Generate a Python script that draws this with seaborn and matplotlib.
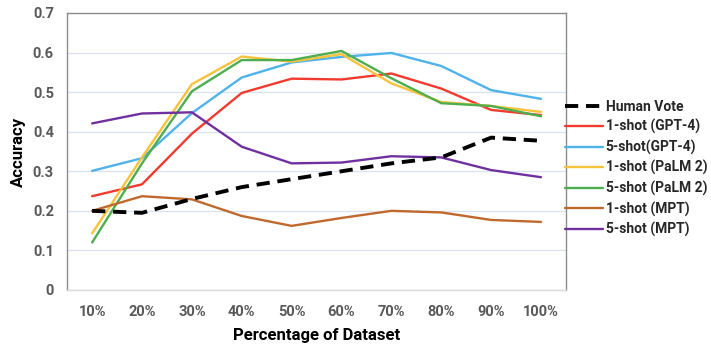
import numpy as np
import pandas as pd
import matplotlib
matplotlib.use("Agg")
import matplotlib.pyplot as plt
import seaborn as sns

categories = ["10%", "20%", "30%", "40%", "50%", "60%", "70%", "80%", "90%", "100%"]
human_vote = [0.200, 0.195, 0.230, 0.260, 0.280, 0.300, 0.320, 0.335, 0.385, 0.377]
gpt4_1shot = [0.237, 0.267, 0.395, 0.498, 0.534, 0.532, 0.547, 0.509, 0.455, 0.442]
gpt4_5shot = [0.301, 0.333, 0.447, 0.537, 0.575, 0.589, 0.599, 0.566, 0.505, 0.483]
palm2_1shot = [0.143, 0.335, 0.520, 0.590, 0.577, 0.596, 0.522, 0.475, 0.465, 0.450]
palm2_5shot = [0.120, 0.320, 0.502, 0.581, 0.581, 0.604, 0.535, 0.472, 0.465, 0.439]
mpt_1shot = [0.200, 0.237, 0.229, 0.187, 0.162, 0.182, 0.200, 0.196, 0.177, 0.172]
mpt_5shot = [0.421, 0.446, 0.449, 0.362, 0.320, 0.322, 0.338, 0.335, 0.303, 0.285]
series_names = ["Human Vote", "1-shot (GPT-4)", "5-shot(GPT-4)", "1-shot (PaLM 2)",
                "5-shot (PaLM 2)", "1-shot (MPT)", "5-shot (MPT)"]
y_ticks = [0, 0.1, 0.2, 0.3, 0.4, 0.5, 0.6, 0.7]
y_tick_labels = ["0", "0.1", "0.2", "0.3", "0.4", "0.5", "0.6", "0.7"]

series_values = [human_vote, gpt4_1shot, gpt4_5shot, palm2_1shot, palm2_5shot, mpt_1shot, mpt_5shot]
colors = ["#000000", "#f23b2e", "#4fb3ea", "#f9c23c", "#4cae4f", "#c0692d", "#7031a0"]

sns.set_theme(style="white")
plt.rcParams["font.family"] = ["Roboto", "DejaVu Sans"]

rows = []
for name, vals in zip(series_names, series_values):
    for i, v in enumerate(vals):
        rows.append({"series": name, "pos": i, "value": v})
df = pd.DataFrame(rows)

fig = plt.figure(figsize=(7.11, 3.48), dpi=100)
ax = fig.add_axes([0.0945, 0.1667, 0.7015, 0.796])

for name, col in zip(series_names, colors):
    sub = df[df["series"] == name]
    if name == "Human Vote":
        sns.lineplot(data=sub, x="pos", y="value", ax=ax, color=col, linewidth=2.8,
                     label=name, zorder=3)
        ax.lines[-1].set_dashes([3.4, 2.0])
    else:
        sns.lineplot(data=sub, x="pos", y="value", ax=ax, color=col, linewidth=1.7,
                     label=name, zorder=2)

ax.set_xlim(-0.5, len(categories) - 0.5)
ax.set_ylim(0, 0.7)
ax.set_xticks(range(len(categories)))
ax.set_xticklabels(categories)
ax.set_yticks(y_ticks)
ax.set_yticklabels(y_tick_labels)
ax.yaxis.grid(True, color="#d9e2f1", linewidth=0.9)
ax.xaxis.grid(False)
ax.set_axisbelow(True)
for s in ["left", "right", "top"]:
    ax.spines[s].set_color("#8c8c8c")
    ax.spines[s].set_linewidth(1.0)
ax.spines["bottom"].set_color("#d9d9d9")
ax.spines["bottom"].set_linewidth(1.0)
ax.tick_params(axis="both", length=0, labelsize=10.5, labelcolor="#595959")
ax.tick_params(axis="y", pad=9.5)
ax.tick_params(axis="x", pad=11)
for lab in ax.get_xticklabels() + ax.get_yticklabels():
    lab.set_fontweight("bold")
ax.set_xlabel("Percentage of Dataset", fontsize=12, fontweight="bold", color="#000000", labelpad=6)
ax.set_ylabel("Accuracy", fontsize=12, fontweight="bold", color="#000000", labelpad=5)

leg = ax.legend(loc="upper left", bbox_to_anchor=(0.999, 0.687), frameon=False,
                fontsize=10, handlelength=2.7, handletextpad=0.2, labelspacing=0.4,
                borderaxespad=0, borderpad=0)
for t in leg.get_texts():
    t.set_fontweight("bold")

fig.savefig("out.png", dpi=100)
